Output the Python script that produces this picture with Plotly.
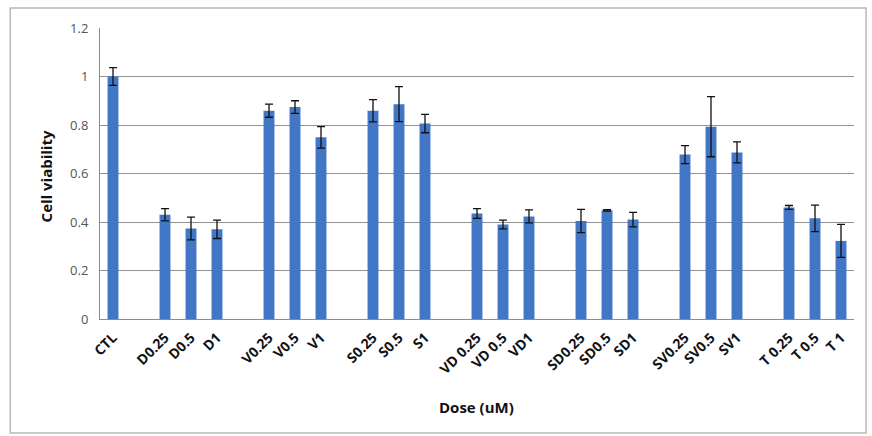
import plotly.graph_objects as go

categories = ["CTL", " ",
              "D0.25", "D0.5", "D1", "  ",
              "V0.25", "V0.5", "V1", "   ",
              "S0.25", "S0.5", "S1", "    ",
              "VD 0.25", "VD 0.5", "VD1", "     ",
              "SD0.25", "SD0.5", "SD1", "      ",
              "SV0.25", "SV0.5", "SV1", "       ",
              "T 0.25", "T 0.5", "T 1"]
viability = [1.0, None,
             0.43, 0.373, 0.37, None,
             0.859, 0.874, 0.749, None,
             0.859, 0.886, 0.806, None,
             0.435, 0.39, 0.423, None,
             0.404, 0.448, 0.41, None,
             0.678, 0.793, 0.687, None,
             0.46, 0.415, 0.322]
errors = [0.037, None,
          0.025, 0.047, 0.038, None,
          0.027, 0.026, 0.044, None,
          0.046, 0.072, 0.038, None,
          0.02, 0.018, 0.027, None,
          0.048, 0.003, 0.03, None,
          0.037, 0.124, 0.043, None,
          0.008, 0.055, 0.068]

fig = go.Figure()
fig.add_trace(go.Bar(
    x=categories, y=viability,
    marker=dict(color="#4277c6", line=dict(width=0)),
    width=0.42,
    error_y=dict(type="data", array=errors, visible=True,
                 color="#111111", thickness=1.3, width=4),
))

fig.update_layout(
    width=872, height=436,
    margin=dict(l=100, r=18, t=28, b=117),
    paper_bgcolor="white", plot_bgcolor="white",
    showlegend=False,
    font=dict(family="Open Sans, sans-serif", color="#222"),
    xaxis=dict(
        type="category", tickangle=-45,
        tickfont=dict(size=14, color="#111", weight="bold"),
        showline=True, linecolor="#8c8c8c", linewidth=1,
        showgrid=False, ticks="", ticklabelstandoff=4,
    ),
    yaxis=dict(
        range=[0, 1.2], dtick=0.2, tickformat="~g",
        tickfont=dict(size=13, color="#555"),
        showgrid=True, gridcolor="#939393", gridwidth=1,
        showline=True, linecolor="#8c8c8c", linewidth=1,
        zeroline=False, ticks="", ticklabelstandoff=8,
    ),
    annotations=[
        dict(text="Dose (uM)", xref="paper", yref="paper",
             x=0.4987, y=-0.302, showarrow=False,
             font=dict(size=15, color="#111", weight="bold"),
             xanchor="center", yanchor="middle"),
        dict(text="Cell viability", xref="paper", yref="paper",
             x=-0.0716, y=0.49, showarrow=False, textangle=-90,
             font=dict(size=15, color="#111", weight="bold"),
             xanchor="center", yanchor="middle"),
    ],
    shapes=[dict(type="rect", xref="paper", yref="paper",
                 x0=-0.119, x1=1.016, y0=-0.392, y1=1.069,
                 line=dict(color="#b8b8b8", width=1.5), layer="below")],
)

fig.write_html("out.html", post_script="document.body.style.margin='0';",
               config={"displayModeBar": False})
